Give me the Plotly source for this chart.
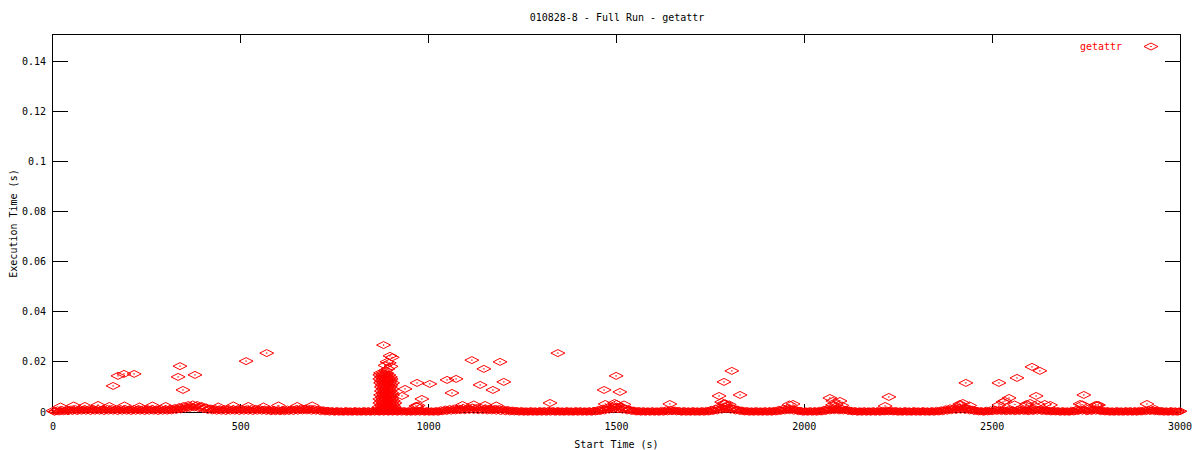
import plotly.graph_objects as go

# ---------------- data ----------------
title_text = "010828-8 - Full Run - getattr"
series_name = "getattr"
x_title = "Start Time (s)"
y_title = "Execution Time (s)"

x_tick_vals = [0, 500, 1000, 1500, 2000, 2500, 3000]
x_tick_text = ["0", "500", "1000", "1500", "2000", "2500", "3000"]
y_tick_vals = [0, 0.02, 0.04, 0.06, 0.08, 0.1, 0.12, 0.14]
y_tick_text = ["0", "0.02", "0.04", "0.06", "0.08", "0.1", "0.12", "0.14"]

# dense band of fast calls along the bottom (first pass, upper part of band)
base_x = [
    0, 12, 24, 36, 48, 60, 72, 84, 96, 108,
    120, 132, 144, 156, 168, 180, 192, 204, 216, 228,
    240, 252, 264, 276, 288, 300, 312, 324, 336, 348,
    360, 372, 384, 396, 408, 420, 432, 444, 456, 468,
    480, 492, 504, 516, 528, 540, 552, 564, 576, 588,
    600, 612, 624, 636, 648, 660, 672, 684, 696, 708,
    720, 732, 744, 756, 768, 780, 792, 804, 816, 828,
    840, 852, 864, 876, 888, 900, 912, 924, 936, 948,
    960, 972, 984, 996, 1008, 1020, 1032, 1044, 1056, 1068,
    1080, 1092, 1104, 1116, 1128, 1140, 1152, 1164, 1176, 1188,
    1200, 1212, 1224, 1236, 1248, 1260, 1272, 1284, 1296, 1308,
    1320, 1332, 1344, 1356, 1368, 1380, 1392, 1404, 1416, 1428,
    1440, 1452, 1464, 1476, 1488, 1500, 1512, 1524, 1536, 1548,
    1560, 1572, 1584, 1596, 1608, 1620, 1632, 1644, 1656, 1668,
    1680, 1692, 1704, 1716, 1728, 1740, 1752, 1764, 1776, 1788,
    1800, 1812, 1824, 1836, 1848, 1860, 1872, 1884, 1896, 1908,
    1920, 1932, 1944, 1956, 1968, 1980, 1992, 2004, 2016, 2028,
    2040, 2052, 2064, 2076, 2088, 2100, 2112, 2124, 2136, 2148,
    2160, 2172, 2184, 2196, 2208, 2220, 2232, 2244, 2256, 2268,
    2280, 2292, 2304, 2316, 2328, 2340, 2352, 2364, 2376, 2388,
    2400, 2412, 2424, 2436, 2448, 2460, 2472, 2484, 2496, 2508,
    2520, 2532, 2544, 2556, 2568, 2580, 2592, 2604, 2616, 2628,
    2640, 2652, 2664, 2676, 2688, 2700, 2712, 2724, 2736, 2748,
    2760, 2772, 2784, 2796, 2808, 2820, 2832, 2844, 2856, 2868,
    2880, 2892, 2904, 2916, 2928, 2940, 2952, 2964, 2976, 2988,
    3000,
]
base_y = [
    0.0005, 0.0007, 0.0008, 0.0009, 0.0010, 0.0011, 0.0011, 0.0012, 0.0011, 0.0012,
    0.0012, 0.0011, 0.0012, 0.0012, 0.0011, 0.0012, 0.0012, 0.0011, 0.0012, 0.0012,
    0.0011, 0.0012, 0.0012, 0.0011, 0.0012, 0.0012, 0.0013, 0.0016, 0.0020, 0.0024,
    0.0028, 0.0030, 0.0028, 0.0024, 0.0018, 0.0014, 0.0012, 0.0011, 0.0012, 0.0012,
    0.0011, 0.0012, 0.0012, 0.0011, 0.0012, 0.0012, 0.0011, 0.0010, 0.0009, 0.0009,
    0.0008, 0.0009, 0.0010, 0.0011, 0.0012, 0.0014, 0.0014, 0.0012, 0.0012, 0.0010,
    0.0007, 0.0005, 0.0004, 0.0004, 0.0003, 0.0004, 0.0003, 0.0004, 0.0003, 0.0004,
    0.0004, 0.0005, 0.0005, 0.0005, 0.0005, 0.0005, 0.0005, 0.0005, 0.0004, 0.0004,
    0.0005, 0.0005, 0.0004, 0.0004, 0.0003, 0.0004, 0.0007, 0.0010, 0.0012, 0.0014,
    0.0014, 0.0016, 0.0016, 0.0018, 0.0016, 0.0016, 0.0014, 0.0014, 0.0012, 0.0012,
    0.0010, 0.0008, 0.0006, 0.0004, 0.0004, 0.0003, 0.0004, 0.0003, 0.0004, 0.0004,
    0.0005, 0.0004, 0.0004, 0.0003, 0.0004, 0.0003, 0.0004, 0.0004, 0.0003, 0.0004,
    0.0005, 0.0009, 0.0014, 0.0018, 0.0022, 0.0022, 0.0020, 0.0014, 0.0009, 0.0005,
    0.0004, 0.0004, 0.0003, 0.0004, 0.0003, 0.0005, 0.0007, 0.0009, 0.0006, 0.0004,
    0.0004, 0.0003, 0.0004, 0.0003, 0.0004, 0.0005, 0.0009, 0.0014, 0.0020, 0.0022,
    0.0020, 0.0014, 0.0009, 0.0005, 0.0004, 0.0003, 0.0004, 0.0003, 0.0004, 0.0004,
    0.0005, 0.0009, 0.0013, 0.0015, 0.0011, 0.0007, 0.0004, 0.0003, 0.0004, 0.0004,
    0.0005, 0.0009, 0.0013, 0.0015, 0.0013, 0.0013, 0.0009, 0.0005, 0.0004, 0.0003,
    0.0004, 0.0003, 0.0004, 0.0004, 0.0005, 0.0006, 0.0005, 0.0004, 0.0003, 0.0004,
    0.0003, 0.0004, 0.0003, 0.0004, 0.0003, 0.0004, 0.0005, 0.0007, 0.0011, 0.0015,
    0.0017, 0.0018, 0.0017, 0.0013, 0.0009, 0.0005, 0.0004, 0.0005, 0.0007, 0.0009,
    0.0009, 0.0007, 0.0009, 0.0007, 0.0009, 0.0009, 0.0007, 0.0009, 0.0011, 0.0009,
    0.0007, 0.0005, 0.0005, 0.0004, 0.0004, 0.0003, 0.0005, 0.0009, 0.0011, 0.0007,
    0.0009, 0.0011, 0.0007, 0.0005, 0.0004, 0.0003, 0.0004, 0.0003, 0.0004, 0.0004,
    0.0004, 0.0005, 0.0007, 0.0009, 0.0007, 0.0005, 0.0004, 0.0003, 0.0004, 0.0003,
    0.0003,
]

# dense band, second pass (lowest part of band)
base2_x = [
    4, 16, 28, 40, 52, 64, 76, 88, 100, 112,
    124, 136, 148, 160, 172, 184, 196, 208, 220, 232,
    244, 256, 268, 280, 292, 304, 316, 328, 340, 352,
    364, 376, 388, 400, 412, 424, 436, 448, 460, 472,
    484, 496, 508, 520, 532, 544, 556, 568, 580, 592,
    604, 616, 628, 640, 652, 664, 676, 688, 700, 712,
    724, 736, 748, 760, 772, 784, 796, 808, 820, 832,
    844, 856, 868, 880, 892, 904, 916, 928, 940, 952,
    964, 976, 988, 1000, 1012, 1024, 1036, 1048, 1060, 1072,
    1084, 1096, 1108, 1120, 1132, 1144, 1156, 1168, 1180, 1192,
    1204, 1216, 1228, 1240, 1252, 1264, 1276, 1288, 1300, 1312,
    1324, 1336, 1348, 1360, 1372, 1384, 1396, 1408, 1420, 1432,
    1444, 1456, 1468, 1480, 1492, 1504, 1516, 1528, 1540, 1552,
    1564, 1576, 1588, 1600, 1612, 1624, 1636, 1648, 1660, 1672,
    1684, 1696, 1708, 1720, 1732, 1744, 1756, 1768, 1780, 1792,
    1804, 1816, 1828, 1840, 1852, 1864, 1876, 1888, 1900, 1912,
    1924, 1936, 1948, 1960, 1972, 1984, 1996, 2008, 2020, 2032,
    2044, 2056, 2068, 2080, 2092, 2104, 2116, 2128, 2140, 2152,
    2164, 2176, 2188, 2200, 2212, 2224, 2236, 2248, 2260, 2272,
    2284, 2296, 2308, 2320, 2332, 2344, 2356, 2368, 2380, 2392,
    2404, 2416, 2428, 2440, 2452, 2464, 2476, 2488, 2500, 2512,
    2524, 2536, 2548, 2560, 2572, 2584, 2596, 2608, 2620, 2632,
    2644, 2656, 2668, 2680, 2692, 2704, 2716, 2728, 2740, 2752,
    2764, 2776, 2788, 2800, 2812, 2824, 2836, 2848, 2860, 2872,
    2884, 2896, 2908, 2920, 2932, 2944, 2956, 2968, 2980, 2992,
]
base2_y = [
    0.0001, 0.0002, 0.0003, 0.0003, 0.0004, 0.0004, 0.0005, 0.0005, 0.0004, 0.0005,
    0.0005, 0.0004, 0.0005, 0.0005, 0.0004, 0.0005, 0.0005, 0.0004, 0.0005, 0.0005,
    0.0004, 0.0005, 0.0005, 0.0004, 0.0005, 0.0005, 0.0006, 0.0008, 0.0010, 0.0013,
    0.0016, 0.0018, 0.0015, 0.0012, 0.0008, 0.0006, 0.0005, 0.0005, 0.0004, 0.0005,
    0.0005, 0.0004, 0.0005, 0.0005, 0.0004, 0.0005, 0.0005, 0.0004, 0.0003, 0.0003,
    0.0003, 0.0003, 0.0004, 0.0004, 0.0005, 0.0006, 0.0006, 0.0005, 0.0005, 0.0003,
    0.0002, 0.0001, 0.0001, 0.0001, 0.0001, 0.0001, 0.0001, 0.0001, 0.0001, 0.0001,
    0.0001, 0.0001, 0.0001, 0.0001, 0.0001, 0.0001, 0.0001, 0.0001, 0.0001, 0.0001,
    0.0001, 0.0001, 0.0001, 0.0001, 0.0001, 0.0001, 0.0003, 0.0004, 0.0005, 0.0006,
    0.0007, 0.0007, 0.0008, 0.0008, 0.0007, 0.0007, 0.0006, 0.0006, 0.0005, 0.0004,
    0.0003, 0.0002, 0.0002, 0.0001, 0.0001, 0.0001, 0.0001, 0.0001, 0.0001, 0.0001,
    0.0001, 0.0001, 0.0001, 0.0001, 0.0001, 0.0001, 0.0001, 0.0001, 0.0001, 0.0001,
    0.0002, 0.0004, 0.0006, 0.0009, 0.0011, 0.0011, 0.0009, 0.0006, 0.0004, 0.0002,
    0.0001, 0.0001, 0.0001, 0.0001, 0.0001, 0.0001, 0.0002, 0.0003, 0.0002, 0.0001,
    0.0001, 0.0001, 0.0001, 0.0001, 0.0001, 0.0002, 0.0004, 0.0006, 0.0009, 0.0011,
    0.0009, 0.0006, 0.0004, 0.0002, 0.0001, 0.0001, 0.0001, 0.0001, 0.0001, 0.0001,
    0.0002, 0.0004, 0.0006, 0.0007, 0.0005, 0.0003, 0.0001, 0.0001, 0.0001, 0.0001,
    0.0002, 0.0004, 0.0006, 0.0007, 0.0006, 0.0006, 0.0004, 0.0002, 0.0001, 0.0001,
    0.0001, 0.0001, 0.0001, 0.0001, 0.0002, 0.0002, 0.0002, 0.0001, 0.0001, 0.0001,
    0.0001, 0.0001, 0.0001, 0.0001, 0.0001, 0.0001, 0.0002, 0.0003, 0.0005, 0.0007,
    0.0008, 0.0009, 0.0008, 0.0006, 0.0004, 0.0002, 0.0001, 0.0002, 0.0003, 0.0004,
    0.0004, 0.0003, 0.0004, 0.0003, 0.0004, 0.0004, 0.0003, 0.0004, 0.0005, 0.0004,
    0.0003, 0.0002, 0.0002, 0.0001, 0.0001, 0.0001, 0.0002, 0.0004, 0.0005, 0.0003,
    0.0004, 0.0005, 0.0003, 0.0002, 0.0001, 0.0001, 0.0001, 0.0001, 0.0001, 0.0001,
    0.0001, 0.0002, 0.0003, 0.0004, 0.0003, 0.0002, 0.0001, 0.0001, 0.0001, 0.0001,
]

# dense band, third pass (middle of band)
base3_x = [
    8, 20, 32, 44, 56, 68, 80, 92, 104, 116,
    128, 140, 152, 164, 176, 188, 200, 212, 224, 236,
    248, 260, 272, 284, 296, 308, 320, 332, 344, 356,
    368, 380, 392, 404, 416, 428, 440, 452, 464, 476,
    488, 500, 512, 524, 536, 548, 560, 572, 584, 596,
    608, 620, 632, 644, 656, 668, 680, 692, 704, 716,
    728, 740, 752, 764, 776, 788, 800, 812, 824, 836,
    848, 860, 872, 884, 896, 908, 920, 932, 944, 956,
    968, 980, 992, 1004, 1016, 1028, 1040, 1052, 1064, 1076,
    1088, 1100, 1112, 1124, 1136, 1148, 1160, 1172, 1184, 1196,
    1208, 1220, 1232, 1244, 1256, 1268, 1280, 1292, 1304, 1316,
    1328, 1340, 1352, 1364, 1376, 1388, 1400, 1412, 1424, 1436,
    1448, 1460, 1472, 1484, 1496, 1508, 1520, 1532, 1544, 1556,
    1568, 1580, 1592, 1604, 1616, 1628, 1640, 1652, 1664, 1676,
    1688, 1700, 1712, 1724, 1736, 1748, 1760, 1772, 1784, 1796,
    1808, 1820, 1832, 1844, 1856, 1868, 1880, 1892, 1904, 1916,
    1928, 1940, 1952, 1964, 1976, 1988, 2000, 2012, 2024, 2036,
    2048, 2060, 2072, 2084, 2096, 2108, 2120, 2132, 2144, 2156,
    2168, 2180, 2192, 2204, 2216, 2228, 2240, 2252, 2264, 2276,
    2288, 2300, 2312, 2324, 2336, 2348, 2360, 2372, 2384, 2396,
    2408, 2420, 2432, 2444, 2456, 2468, 2480, 2492, 2504, 2516,
    2528, 2540, 2552, 2564, 2576, 2588, 2600, 2612, 2624, 2636,
    2648, 2660, 2672, 2684, 2696, 2708, 2720, 2732, 2744, 2756,
    2768, 2780, 2792, 2804, 2816, 2828, 2840, 2852, 2864, 2876,
    2888, 2900, 2912, 2924, 2936, 2948, 2960, 2972, 2984, 2996,
]
base3_y = [
    0.0003, 0.0004, 0.0005, 0.0006, 0.0007, 0.0007, 0.0008, 0.0008, 0.0008, 0.0008,
    0.0008, 0.0008, 0.0009, 0.0008, 0.0008, 0.0009, 0.0008, 0.0008, 0.0009, 0.0008,
    0.0008, 0.0009, 0.0008, 0.0008, 0.0009, 0.0008, 0.0010, 0.0012, 0.0015, 0.0019,
    0.0022, 0.0024, 0.0021, 0.0018, 0.0013, 0.0010, 0.0009, 0.0008, 0.0008, 0.0009,
    0.0008, 0.0008, 0.0009, 0.0008, 0.0008, 0.0009, 0.0008, 0.0007, 0.0006, 0.0006,
    0.0006, 0.0006, 0.0007, 0.0008, 0.0009, 0.0010, 0.0010, 0.0009, 0.0008, 0.0006,
    0.0004, 0.0003, 0.0002, 0.0002, 0.0002, 0.0002, 0.0002, 0.0002, 0.0002, 0.0002,
    0.0002, 0.0003, 0.0003, 0.0003, 0.0003, 0.0003, 0.0003, 0.0003, 0.0002, 0.0002,
    0.0003, 0.0003, 0.0002, 0.0002, 0.0002, 0.0002, 0.0005, 0.0007, 0.0009, 0.0010,
    0.0011, 0.0012, 0.0012, 0.0013, 0.0012, 0.0012, 0.0010, 0.0010, 0.0009, 0.0008,
    0.0007, 0.0005, 0.0004, 0.0003, 0.0002, 0.0002, 0.0002, 0.0002, 0.0002, 0.0002,
    0.0003, 0.0002, 0.0002, 0.0002, 0.0002, 0.0002, 0.0002, 0.0002, 0.0002, 0.0002,
    0.0003, 0.0006, 0.0010, 0.0014, 0.0016, 0.0016, 0.0014, 0.0010, 0.0006, 0.0003,
    0.0002, 0.0002, 0.0002, 0.0002, 0.0002, 0.0003, 0.0004, 0.0006, 0.0004, 0.0002,
    0.0002, 0.0002, 0.0002, 0.0002, 0.0002, 0.0003, 0.0006, 0.0010, 0.0014, 0.0016,
    0.0014, 0.0010, 0.0006, 0.0003, 0.0002, 0.0002, 0.0002, 0.0002, 0.0002, 0.0002,
    0.0003, 0.0006, 0.0009, 0.0011, 0.0008, 0.0005, 0.0002, 0.0002, 0.0002, 0.0002,
    0.0003, 0.0006, 0.0009, 0.0011, 0.0009, 0.0009, 0.0006, 0.0003, 0.0002, 0.0002,
    0.0002, 0.0002, 0.0002, 0.0002, 0.0003, 0.0004, 0.0003, 0.0002, 0.0002, 0.0002,
    0.0002, 0.0002, 0.0002, 0.0002, 0.0002, 0.0002, 0.0003, 0.0005, 0.0008, 0.0011,
    0.0012, 0.0013, 0.0012, 0.0009, 0.0006, 0.0003, 0.0002, 0.0003, 0.0005, 0.0006,
    0.0006, 0.0005, 0.0006, 0.0005, 0.0006, 0.0006, 0.0005, 0.0006, 0.0008, 0.0006,
    0.0005, 0.0003, 0.0003, 0.0002, 0.0002, 0.0002, 0.0003, 0.0006, 0.0008, 0.0005,
    0.0006, 0.0008, 0.0005, 0.0003, 0.0002, 0.0002, 0.0002, 0.0002, 0.0002, 0.0002,
    0.0002, 0.0003, 0.0005, 0.0006, 0.0005, 0.0003, 0.0002, 0.0002, 0.0002, 0.0002,
]

# calls just above the band (visible as separate outlines on top of it)
upper_x = [
    20, 55, 85, 120, 150, 190, 230, 265, 300, 440,
    480, 520, 560, 600, 650, 690, 1090, 1120, 1150, 1180,
    1470, 1495, 1520, 1785, 1800, 1960, 2075, 2100, 2415, 2440,
    2560, 2590, 2620, 2655, 2740,
]
upper_y = [
    0.0022, 0.0026, 0.0024, 0.0028, 0.0024, 0.0026, 0.0022, 0.0026, 0.0024, 0.0022,
    0.0026, 0.0024, 0.0022, 0.0026, 0.0024, 0.0026, 0.0028, 0.0030, 0.0028, 0.0026,
    0.0032, 0.0036, 0.0030, 0.0034, 0.0030, 0.0030, 0.0028, 0.0026, 0.0028, 0.0026,
    0.0030, 0.0026, 0.0032, 0.0028, 0.0030,
]

# burst of slow calls around t = 880 s
cluster_x = [
    880, 897, 903, 889, 895, 884, 900, 892, 886,
    872, 880, 888,
    870, 878, 886, 894,
    874, 882, 890, 898,
    870, 878, 886, 894, 900,
    874, 882, 890, 898,
    872, 880, 888, 896, 904,
    876, 884, 892, 900,
    874, 882, 890, 898,
    878, 886, 894, 902,
    874, 882, 890, 898,
    878, 886, 894, 902,
    872, 880, 888, 896, 904,
    876, 884, 892, 900,
    870, 878, 886, 894, 902,
    874, 882, 890, 898, 906,
    870, 878, 886, 894, 902, 910,
    874, 882, 890, 898, 906,
    868, 876, 884, 892, 900, 908,
    872, 880, 888, 896, 904, 912,
    866, 874, 882, 890, 898, 906, 914,
    966, 972, 969,
]
cluster_y = [
    0.0267, 0.0224, 0.0218, 0.0200, 0.0196, 0.0186, 0.0182, 0.0172, 0.0166,
    0.0156, 0.0156, 0.0156,
    0.0148, 0.0148, 0.0148, 0.0148,
    0.0140, 0.0140, 0.0140, 0.0140,
    0.0132, 0.0132, 0.0132, 0.0132, 0.0132,
    0.0124, 0.0124, 0.0124, 0.0124,
    0.0116, 0.0116, 0.0116, 0.0116, 0.0116,
    0.0108, 0.0108, 0.0108, 0.0108,
    0.0100, 0.0100, 0.0100, 0.0100,
    0.0092, 0.0092, 0.0092, 0.0092,
    0.0084, 0.0084, 0.0084, 0.0084,
    0.0076, 0.0076, 0.0076, 0.0076,
    0.0068, 0.0068, 0.0068, 0.0068, 0.0068,
    0.0060, 0.0060, 0.0060, 0.0060,
    0.0052, 0.0052, 0.0052, 0.0052, 0.0052,
    0.0044, 0.0044, 0.0044, 0.0044, 0.0044,
    0.0036, 0.0036, 0.0036, 0.0036, 0.0036, 0.0036,
    0.0028, 0.0028, 0.0028, 0.0028, 0.0028,
    0.0020, 0.0020, 0.0020, 0.0020, 0.0020, 0.0020,
    0.0012, 0.0012, 0.0012, 0.0012, 0.0012, 0.0012,
    0.0004, 0.0004, 0.0004, 0.0004, 0.0004, 0.0004, 0.0004,
    0.0024, 0.0026, 0.0022,
]

# scattered slow calls
outlier_x = [
    160, 173, 189, 216, 338, 333, 378, 346, 514, 569,
    969, 1003, 937, 929, 982, 1049, 1073, 1062, 1115, 1190,
    1147, 1137, 1200, 1171, 1344, 1323, 1499, 1467, 1509, 1500,
    1807, 1786, 1773, 1829, 1642, 1780, 1790, 1970, 2068, 2095,
    2085, 2076, 2225, 2215, 2430, 2518, 2566, 2606, 2627, 2617,
    2545, 2534, 2529, 2422, 2414, 2518, 2601, 2592, 2640, 2744,
    2734, 2779, 2775, 2783, 2912, 2933,
]
outlier_y = [
    0.0104, 0.0144, 0.0152, 0.0152, 0.0183, 0.0140, 0.0148, 0.0088, 0.0203, 0.0235,
    0.0116, 0.0112, 0.0092, 0.0064, 0.0052, 0.0128, 0.0132, 0.0076, 0.0207, 0.0200,
    0.0172, 0.0108, 0.0120, 0.0088, 0.0235, 0.0036, 0.0144, 0.0088, 0.0080, 0.0032,
    0.0164, 0.0120, 0.0064, 0.0068, 0.0032, 0.0040, 0.0034, 0.0032, 0.0056, 0.0044,
    0.0032, 0.0044, 0.0060, 0.0024, 0.0116, 0.0116, 0.0136, 0.0180, 0.0164, 0.0064,
    0.0056, 0.0044, 0.0040, 0.0036, 0.0032, 0.0028, 0.0036, 0.0032, 0.0032, 0.0068,
    0.0032, 0.0028, 0.0028, 0.0028, 0.0032, 0.0012,
]

# ---------------- figure ----------------
all_x = base_x + base2_x + base3_x + upper_x + cluster_x + outlier_x
all_y = base_y + base2_y + base3_y + upper_y + cluster_y + outlier_y

FONT = "DejaVu Sans Mono"
RED = "#ff0000"

# the page body has an 8 px margin, so the figure is 8 px smaller than the window
fig = go.Figure()
fig.add_trace(go.Scatter(
    x=all_x, y=all_y, mode="markers", name=series_name, cliponaxis=False,
    marker=dict(symbol="diamond-wide-open-dot", size=10, color=RED,
                line=dict(width=1, color=RED)),
))

fig.update_layout(
    width=1192, height=442,
    margin=dict(l=45, r=20, t=27, b=38, autoexpand=False),
    paper_bgcolor="white", plot_bgcolor="white",
    font=dict(family=FONT, size=10, color="black"),
    title=dict(text=title_text, x=0.5109, xanchor="center", y=0.9796, yanchor="middle",
               font=dict(family=FONT, size=10, color="black")),
    showlegend=True,
    legend=dict(x=0.9565, xanchor="left", y=1.0079, yanchor="top",
                bgcolor="rgba(0,0,0,0)", borderwidth=0,
                font=dict(family=FONT, size=1, color="rgba(0,0,0,0)")),
    annotations=[dict(text=series_name, xref="paper", yref="paper",
                      x=0.9503, y=0.9708, xanchor="right", yanchor="middle",
                      showarrow=False, font=dict(family=FONT, size=10, color=RED))],
)

fig.update_xaxes(
    range=[0, 3000], tickvals=x_tick_vals, ticktext=x_tick_text,
    showline=True, linecolor="black", linewidth=1, mirror="ticks",
    ticks="inside", ticklen=8, tickwidth=1, tickcolor="black",
    ticklabelstandoff=5, layer="below traces",
    showgrid=False, zeroline=False,
    title=dict(text=x_title, standoff=11, font=dict(family=FONT, size=10)),
)
fig.update_yaxes(
    range=[0, 0.1504], tickvals=y_tick_vals, ticktext=y_tick_text,
    showline=True, linecolor="black", linewidth=1, mirror="ticks",
    ticks="inside", ticklen=15, tickwidth=1, tickcolor="black",
    ticklabelstandoff=4, layer="below traces",
    showgrid=False, zeroline=False,
    title=dict(text=y_title, standoff=3, font=dict(family=FONT, size=10)),
)

fig.write_html("out.html")
